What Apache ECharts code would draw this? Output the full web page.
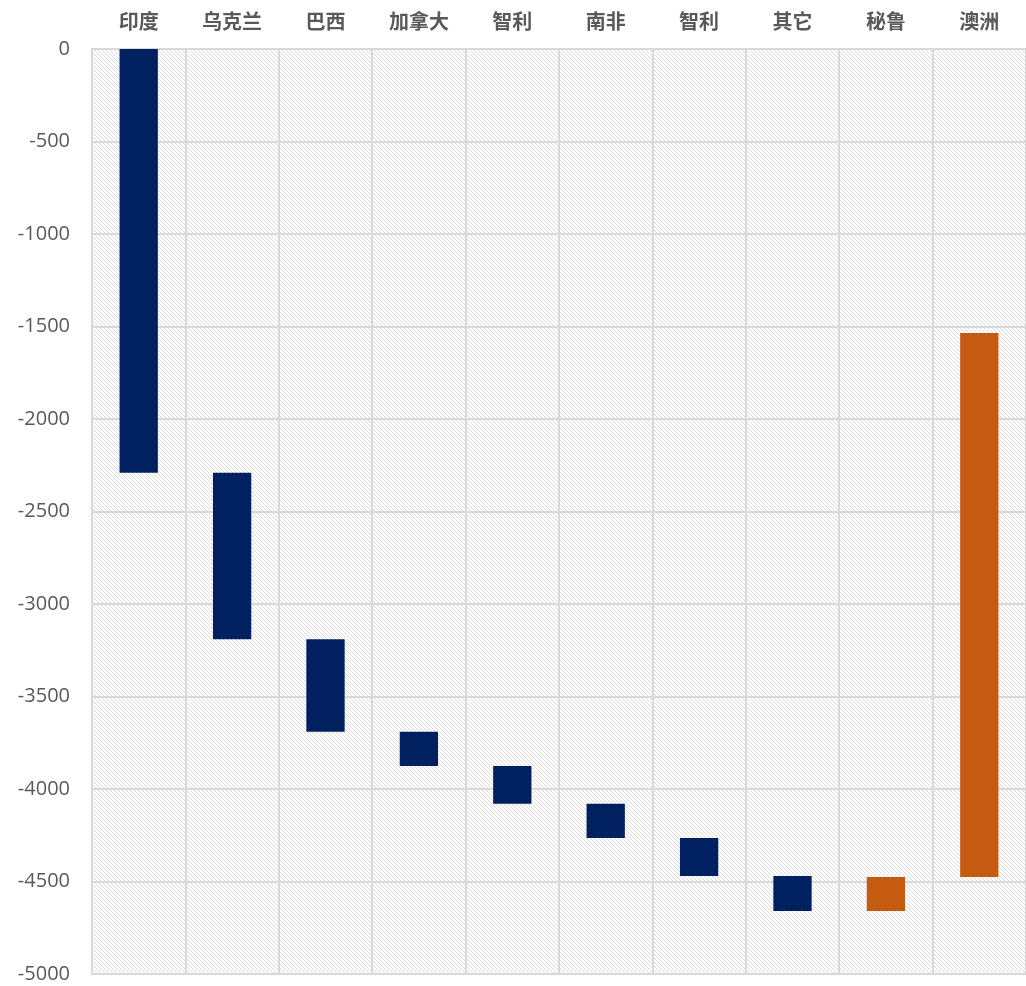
<!DOCTYPE html>
<html>
<head>
<meta charset="utf-8">
<script src="https://cdn.jsdelivr.net/npm/echarts@6/dist/echarts.min.js"></script>
<style>
  html, body { margin: 0; padding: 0; background: #ffffff; }
  #chart { width: 1026px; height: 986px; }
</style>
</head>
<body>
<div id="chart"></div>
<script>
// Waterfall: each bar spans from its upper end to its lower end
const categories = ['印度', '乌克兰', '巴西', '加拿大', '智利', '南非', '智利', '其它', '秘鲁', '澳洲'];
const barTop    = [0, -2290, -3190, -3690, -3875, -4080, -4265, -4470, -4475, -1535];
const barBottom = [-2290, -3190, -3690, -3875, -4080, -4265, -4470, -4660, -4660, -4475];
const barColors = ['#002060', '#002060', '#002060', '#002060', '#002060', '#002060', '#002060', '#002060', '#C55A11', '#C55A11'];
const yTicks = { min: -5000, max: 0, interval: 500 };

// Pixel diagonal hatch (top-left to bottom-right) for the plot background
function hatchPattern() {
  const s = 4;
  const c = document.createElement('canvas');
  c.width = s; c.height = s;
  const g = c.getContext('2d');
  g.fillStyle = '#ffffff';
  g.fillRect(0, 0, s, s);
  g.fillStyle = '#dadada';
  for (let i = 0; i < s; i++) g.fillRect(i, i, 1, 1);
  return c;
}

const chart = echarts.init(document.getElementById('chart'), null, { renderer: 'canvas' });

const spans = barTop.map((t, i) => barBottom[i] - t);

chart.setOption({
  animation: false,
  backgroundColor: '#ffffff',
  grid: {
    left: 92, right: 0, top: 49, bottom: 12,
    show: true,
    backgroundColor: { image: hatchPattern(), repeat: 'repeat' },
    borderColor: '#d9d9d9',
    borderWidth: 1
  },
  xAxis: {
    type: 'category',
    position: 'top',
    data: categories,
    axisLine: { show: false },
    axisTick: { show: false },
    axisLabel: {
      color: '#595959', fontSize: 20, fontWeight: 'bold',
      fontFamily: '"Noto Sans CJK SC", sans-serif', margin: 18
    },
    splitLine: { show: true, lineStyle: { color: '#d9d9d9', width: 2 } }
  },
  yAxis: {
    type: 'value',
    min: yTicks.min, max: yTicks.max, interval: yTicks.interval,
    axisLine: { show: true, lineStyle: { color: '#d9d9d9', width: 2 } },
    axisTick: { show: false },
    axisLabel: {
      color: '#595959', fontSize: 20,
      fontFamily: '"Open Sans", "Noto Sans", sans-serif', margin: 22,
      formatter: v => String(v)
    },
    splitLine: { show: true, lineStyle: { color: '#d9d9d9', width: 2 } }
  },
  series: [
    {
      type: 'bar', stack: 'w', barWidth: '41%',
      itemStyle: { color: 'transparent' },
      data: barTop,
      silent: true
    },
    {
      type: 'bar', stack: 'w', barWidth: '41%',
      data: spans.map((v, i) => ({ value: v, itemStyle: { color: barColors[i] } }))
    }
  ]
});
</script>
</body>
</html>
